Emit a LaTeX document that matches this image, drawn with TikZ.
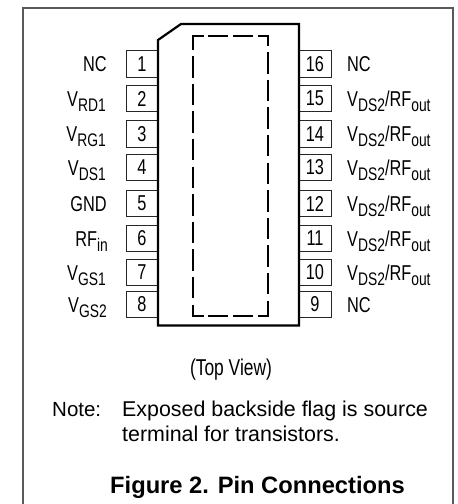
\documentclass[tikz,border=0pt]{standalone}
\usepackage{fontspec}
\setmainfont{Liberation Sans}
\newfontfamily\narrowfont[FakeStretch=0.76]{Liberation Sans}
\newcommand{\pinsub}[1]{\raisebox{-5pt}{\fontsize{18.2}{18.2}\selectfont #1}}
\tikzset{
  pinbox/.style={draw=black!85,line width=1pt,rectangle,minimum width=32pt,minimum height=26.5pt,inner sep=0pt,font=\narrowfont\fontsize{21.5}{21.5}\selectfont},
  pinleft/.style={anchor=base east,inner sep=0pt,font=\narrowfont\fontsize{21.5}{21.5}\selectfont},
  pinright/.style={anchor=base west,inner sep=0pt,font=\narrowfont\fontsize{21.5}{21.5}\selectfont},
  notetext/.style={anchor=base west,inner sep=0pt,font=\fontsize{21.4}{21.4}\selectfont},
  flagside/.style={line width=2pt}
}
\begin{document}
\begin{tikzpicture}[x=1pt,y=-1pt]
      \useasboundingbox (0,0) rectangle (458,504);
      \draw[black!65,line width=1.6pt] (23,504) -- (23,8) -- (453,8) -- (453,504);
      \draw[every node/.style=pinbox]
        (142,64) node (1){1}
        (142,98.5) node (2){2}
        (142,134) node (3){3}
        (142,167.5) node (4){4}
        (142,203.5) node (5){5}
        (142,238.5) node (6){6}
        (142,272.5) node (7){7}
        (142,304.5) node (8){8}
        (315,304.5) node (9){9}
        (315,272.5) node (10){10}
        (315,238.5) node (11){11}
        (315,203.5) node (12){12}
        (315,167.5) node (13){13}
        (315,134) node (14){14}
        (315,98.5) node (15){15}
        (315,64) node (16){16};
      \draw[line width=2.2pt,fill=white,line join=miter] (158,40) -- (181,24) -- (299,24) -- (299,325.5) -- (158,325.5) -- cycle;
      % flag outline, each side with its own dash phase
      \draw[flagside,dash pattern=on 20pt off 4.7pt,dash phase=8.5pt] (192,36) -- (269,36);
      \draw[flagside,dash pattern=on 20pt off 4.7pt,dash phase=8.5pt] (192,316) -- (269,316);
      \draw[flagside,dash pattern=on 21.5pt off 6.1pt,dash phase=6.5pt] (193,35) -- (193,317);
      \draw[flagside,dash pattern=on 21.5pt off 6.1pt,dash phase=10.5pt] (268,35) -- (268,317);
      \begin{scope}[every node/.style=pinleft]
        \node (l1) at (107,71) {NC};
        \node (l2) at (106,106) {V\pinsub{RD1}};
        \node (l3) at (106,141.5) {V\pinsub{RG1}};
        \node (l4) at (106,175) {V\pinsub{DS1}};
        \node (l5) at (107,211) {GND};
        \node (l6) at (108,246) {RF\pinsub{in}};
        \node (l7) at (106,280) {V\pinsub{GS1}};
        \node (l8) at (107,312) {V\pinsub{GS2}};
      \end{scope}
      \begin{scope}[every node/.style=pinright]
        \node (l9) at (347,312) {NC};
        \node (l10) at (347,280) {V\pinsub{DS2}/RF\pinsub{out}};
        \node (l11) at (347,246) {V\pinsub{DS2}/RF\pinsub{out}};
        \node (l12) at (347,211) {V\pinsub{DS2}/RF\pinsub{out}};
        \node (l13) at (347,175) {V\pinsub{DS2}/RF\pinsub{out}};
        \node (l14) at (347,141.5) {V\pinsub{DS2}/RF\pinsub{out}};
        \node (l15) at (347,106) {V\pinsub{DS2}/RF\pinsub{out}};
        \node (l16) at (347,71) {NC};
      \end{scope}
      \node[anchor=base,inner sep=0pt,font=\narrowfont\fontsize{22.9}{22.9}\selectfont] (view) at (231,375) {(Top View)};
      \node[notetext,font=\fontsize{20.5}{20.5}\selectfont] (note) at (52,416) {Note:};
      \node[notetext] (flag) at (122,416) {Exposed backside flag is source};
      \node[notetext] (term) at (122,441.5) {terminal for transistors.};
      \node[anchor=base west,inner sep=0pt,font=\bfseries\fontsize{23.7}{23.7}\selectfont] (title) at (110,493) {Figure 2. Pin Connections};
    \end{tikzpicture}
\end{document}
